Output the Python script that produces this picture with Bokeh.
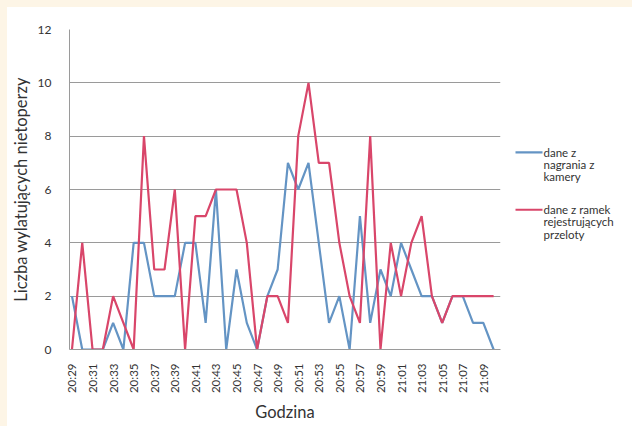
from bokeh.plotting import figure
from bokeh.models import ColumnDataSource, FixedTicker, Range1d
from bokeh.layouts import column, row
from bokeh.core.properties import value
from bokeh.embed import file_html
from bokeh.resources import INLINE
import math

# Minute-by-minute counts of bats leaving the roost
times = ["20:29", "20:30", "20:31", "20:32", "20:33", "20:34", "20:35", "20:36",
         "20:37", "20:38", "20:39", "20:40", "20:41", "20:42", "20:43", "20:44",
         "20:45", "20:46", "20:47", "20:48", "20:49", "20:50", "20:51", "20:52",
         "20:53", "20:54", "20:55", "20:56", "20:57", "20:58", "20:59", "21:00",
         "21:01", "21:02", "21:03", "21:04", "21:05", "21:06", "21:07", "21:08",
         "21:09", "21:10"]
camera = [2, 0, 0, 0, 1, 0, 4, 4, 2, 2, 2, 4, 4, 1, 6, 0, 3, 1, 0, 2, 3,
          7, 6, 7, 4, 1, 2, 0, 5, 1, 3, 2, 4, 3, 2, 2, 1, 2, 2, 1, 1, 0]
frames = [0, 4, 0, 0, 2, 1, 0, 8, 3, 3, 6, 0, 5, 5, 6, 6, 6, 4, 0, 2, 2,
          1, 8, 10, 7, 7, 4, 2, 1, 8, 0, 4, 2, 4, 5, 2, 1, 2, 2, 2, 2, 2]
y_ticks = [0, 2, 4, 6, 8, 10, 12]
series_names = [["dane z", "nagrania z", "kamery"],
                ["dane z ramek", "rejestrujących", "przeloty"]]

BLUE = "#6494c4"
RED = "#d9466a"
GRID = "#9a9a9a"
TEXT = "#333333"
FONT = "Lato"

idx = list(range(len(times)))
src = ColumnDataSource(dict(x=idx, camera=camera, frames=frames))

p = figure(width=500, height=419, output_backend="svg", toolbar_location=None,
           x_range=Range1d(-0.24, 41.67), y_range=Range1d(0, 12),
           min_border_left=58, min_border_right=7, min_border_top=22,
           min_border_bottom=77)
p.outline_line_color = None
p.background_fill_color = "white"
p.border_fill_color = "white"

p.line("x", "camera", source=src, line_color=BLUE, line_width=2.2)
p.line("x", "frames", source=src, line_color=RED, line_width=2.2)

# horizontal gridlines only
p.xgrid.grid_line_color = None
p.ygrid.grid_line_color = GRID
p.ygrid.grid_line_width = 1
p.ygrid.ticker = FixedTicker(ticks=y_ticks)

# y axis
p.yaxis.ticker = FixedTicker(ticks=y_ticks)
p.yaxis.axis_line_color = GRID
p.yaxis.major_tick_line_color = None
p.yaxis.minor_tick_line_color = None
p.yaxis.major_label_standoff = 12
p.yaxis.major_label_text_font = FONT
p.yaxis.major_label_text_font_size = "12px"
p.yaxis.major_label_text_color = TEXT
p.yaxis.axis_label = "Liczba wylatujących nietoperzy"
p.yaxis.axis_label_text_font = FONT
p.yaxis.axis_label_text_font_style = "normal"
p.yaxis.axis_label_text_font_size = "16.5px"
p.yaxis.axis_label_text_color = TEXT
p.yaxis.axis_label_standoff = 4

# x axis: every second minute labelled, rotated
x_ticks = idx[::2]
p.xaxis.ticker = FixedTicker(ticks=x_ticks)
p.xaxis.major_label_overrides = {i: times[i] for i in x_ticks}
p.xaxis.major_label_orientation = math.pi / 2
p.xaxis.axis_line_color = GRID
p.xaxis.major_tick_line_color = None
p.xaxis.minor_tick_line_color = None
p.xaxis.major_label_standoff = 8
p.xaxis.major_label_text_font = FONT
p.xaxis.major_label_text_font_size = "11.5px"
p.xaxis.major_label_text_color = TEXT
p.xaxis.axis_label = "Godzina"
p.xaxis.axis_label_text_font = FONT
p.xaxis.axis_label_text_font_style = "normal"
p.xaxis.axis_label_text_font_size = "16.5px"
p.xaxis.axis_label_text_color = TEXT
p.xaxis.axis_label_standoff = 6

# legend panel: pixel-based canvas to the right of the chart
lg = figure(width=125, height=419, output_backend="svg", toolbar_location=None,
            x_range=Range1d(0, 125), y_range=Range1d(419, 0),
            min_border=0)
lg.axis.visible = False
lg.grid.visible = False
lg.outline_line_color = None
lg.border_fill_color = "white"
lg.background_fill_color = "white"

entry_top = [161, 236]
line_gap = 16
for names, color, top in zip(series_names, [BLUE, RED], entry_top):
    lg.line([8, 35], [top, top], line_color=color, line_width=2.2)
    lg.text(x=[36] * len(names), y=[top + k * line_gap for k in range(len(names))],
            text=names, text_font=value(FONT), text_font_size="11.5px",
            text_color=TEXT, text_baseline="middle", text_align="left")

body = row(p, lg, styles={"background-color": "white"})
page = column(body, styles={"background-color": "#fdf5e6",
                            "padding-left": "7px", "padding-top": "7px"})

open("out.html", "w").write(file_html(page, INLINE))
